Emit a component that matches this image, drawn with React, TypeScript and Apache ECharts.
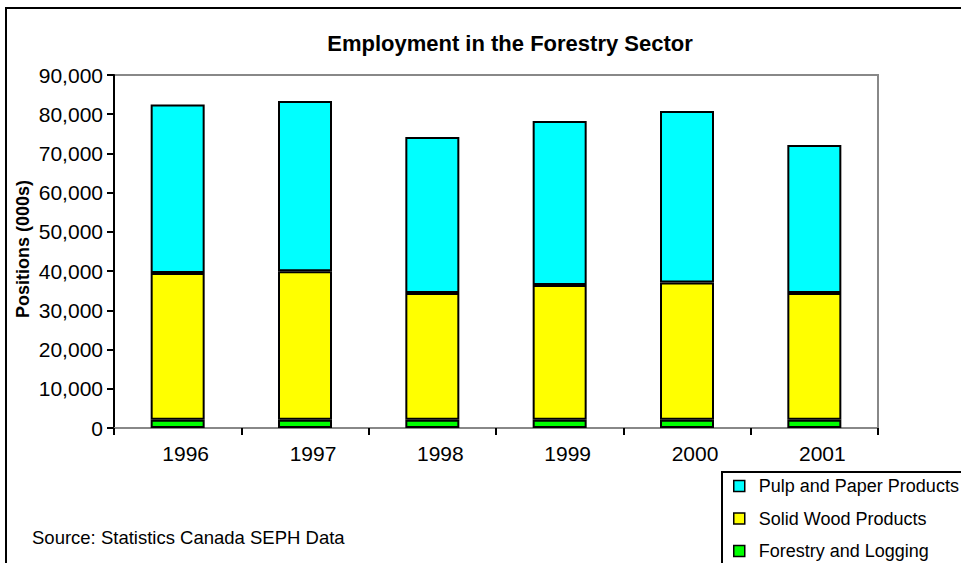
import React, { useEffect, useRef } from "react";
import * as echarts from "echarts";

const years = ["1996", "1997", "1998", "1999", "2000", "2001"];
const forestryLogging = [2100, 2100, 2100, 2100, 2100, 2100];
const solidWood = [37400, 37850, 32300, 34350, 34970, 32300];
const pulpPaper = [42950, 43420, 39800, 41820, 43750, 37750];
const seriesNames = ["Pulp and Paper Products", "Solid Wood Products", "Forestry and Logging"];
const yTicks = { min: 0, max: 90000, interval: 10000 };
const yAxisTitle = "Positions (000s)";

const FONT = "'Liberation Sans', Arial, sans-serif";

export default function App() {
  const ref = useRef<HTMLDivElement>(null);
  useEffect(() => {
    if (!ref.current) return;
    const chart = echarts.init(ref.current, undefined, { renderer: "svg" });
    const barStyle = (color: string) => ({
      color,
      borderColor: "#000",
      borderWidth: 2,
    });
    chart.setOption({
      animation: false,
      backgroundColor: "#fff",
      textStyle: { fontFamily: FONT },
      title: {
        text: "Employment in the Forestry Sector",
        left: 505,
        top: 27,
        textAlign: "center",
        textStyle: { fontFamily: FONT, fontSize: 22, fontWeight: "bold", color: "#000" },
      },
      grid: {
        left: 114,
        top: 75,
        width: 764,
        height: 353,
        show: true,
        borderColor: "#888",
        borderWidth: 2,
        backgroundColor: "transparent",
      },
      legend: {
        orient: "vertical",
        left: 733,
        top: 476,
        padding: 0,
        itemWidth: 11,
        itemHeight: 11,
        itemGap: 12.5,
        icon: "rect",
        data: seriesNames,
        textStyle: {
          fontFamily: FONT,
          fontSize: 18,
          color: "#000",
          lineHeight: 20,
          padding: [0, 0, 0, 9],
        },
        itemStyle: { borderColor: "#000", borderWidth: 1.5 },
        selectedMode: false,
      },
      xAxis: {
        type: "category",
        data: years,
        axisLine: { lineStyle: { color: "#888", width: 2 } },
        axisTick: { show: true, length: 7, lineStyle: { color: "#000", width: 2 } },
        axisLabel: {
          fontFamily: FONT,
          fontSize: 21,
          color: "#000",
          margin: 15,
          padding: [0, 0, 0, 16],
        },
      },
      yAxis: {
        type: "value",
        min: yTicks.min,
        max: yTicks.max,
        interval: yTicks.interval,
        axisLine: { show: true, lineStyle: { color: "#000", width: 2 } },
        axisTick: { show: true, length: 7, lineStyle: { color: "#000", width: 2 } },
        splitLine: { show: false },
        axisLabel: {
          fontFamily: FONT,
          fontSize: 21,
          color: "#000",
          margin: 11,
          formatter: (v: number) => v.toLocaleString("en-US"),
        },
      },
      series: [
        {
          name: "Forestry and Logging",
          type: "bar",
          stack: "total",
          barWidth: 54,
          data: forestryLogging,
          itemStyle: barStyle("#00FF00"),
        },
        {
          name: "Solid Wood Products",
          type: "bar",
          stack: "total",
          barWidth: 54,
          data: solidWood,
          itemStyle: barStyle("#FFFF00"),
        },
        {
          name: "Pulp and Paper Products",
          type: "bar",
          stack: "total",
          barWidth: 54,
          data: pulpPaper,
          itemStyle: barStyle("#00FFFF"),
        },
      ],
      graphic: [
        {
          type: "rect",
          z: -10,
          shape: { x: 6, y: 8, width: 1000, height: 600 },
          style: { fill: "none", stroke: "#000", lineWidth: 2 },
          silent: true,
        },
        {
          type: "rect",
          z: -5,
          shape: { x: 722, y: 472, width: 300, height: 200 },
          style: { fill: "#fff", stroke: "#000", lineWidth: 2 },
          silent: true,
        },
        {
          type: "text",
          x: 23,
          y: 249,
          rotation: Math.PI / 2,
          style: {
            text: yAxisTitle,
            fontFamily: FONT,
            fontSize: 18,
            fontWeight: "bold",
            fill: "#000",
            align: "center",
            verticalAlign: "middle",
          },
          silent: true,
        },
        {
          type: "text",
          left: 32,
          top: 528,
          style: {
            text: "Source: Statistics Canada SEPH Data",
            fontFamily: FONT,
            fontSize: 18.5,
            fill: "#000",
          },
          silent: true,
        },
      ],
    });
    return () => chart.dispose();
  }, []);
  return (
    <div
      ref={ref}
      style={{ position: "absolute", left: 0, top: 0, width: 961, height: 563 }}
    />
  );
}
